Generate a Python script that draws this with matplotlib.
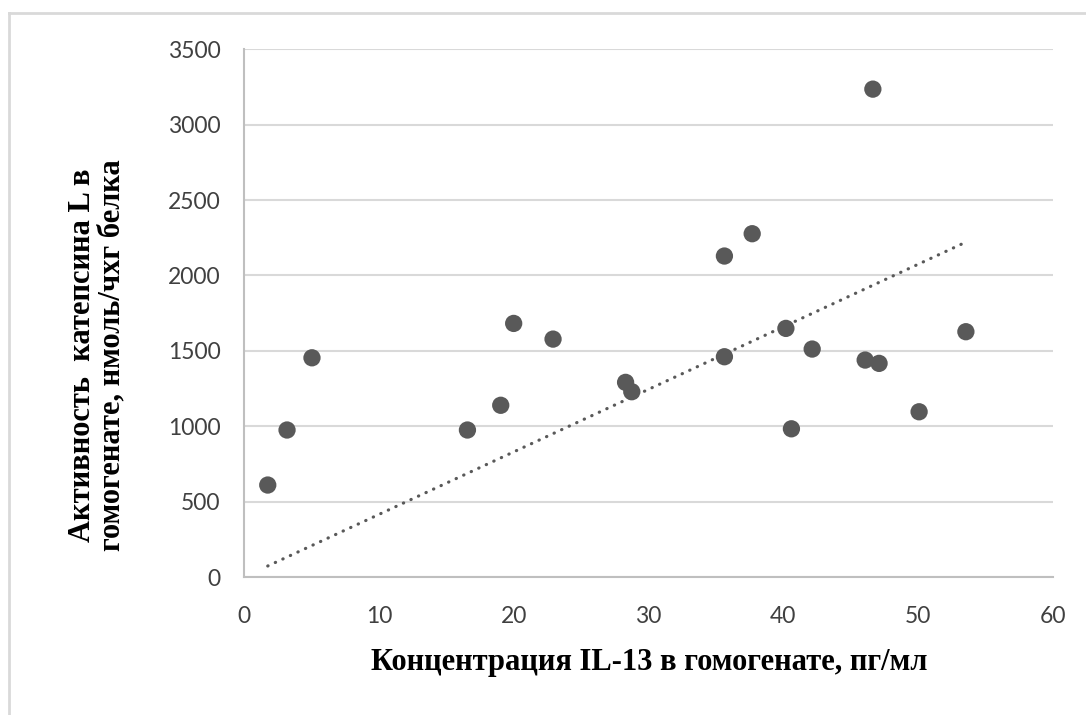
import numpy as np
import matplotlib.pyplot as plt
from matplotlib.lines import Line2D

# IL-13 concentration (pg/ml) vs cathepsin L activity
il13 = [1.76, 3.19, 5.04, 16.57, 19.04, 20.0, 22.92, 28.3, 28.76, 35.63,
        40.19, 42.14, 40.6, 46.07, 47.1, 50.07, 53.54, 46.64, 35.63, 37.69]
katepsin = [610, 975, 1454, 975, 1139, 1682, 1578, 1291, 1229, 1461,
            1649, 1512, 983, 1439, 1417, 1096, 1627, 3236, 2129, 2277]

x_ticks = [0, 10, 20, 30, 40, 50, 60]
y_ticks = [0, 500, 1000, 1500, 2000, 2500, 3000, 3500]

xlabel = 'Концентрация IL-13 в гомогенате, пг/мл'
ylabel = 'Активность  катепсина L в\nгомогенате, нмоль/чхг белка'

x = np.array(il13)
y = np.array(katepsin)

# linear trend through the origin
k = np.sum(x * y) / np.sum(x * x)
xt = np.array([x.min(), x.max()])

fig = plt.figure(figsize=(10.86, 7.15), dpi=100)
ax = fig.add_axes([0.2247, 0.193, 0.9696 - 0.2247, 0.931 - 0.193])

ax.scatter(x, y, s=155, color='#595959', edgecolors='none', zorder=3)
ax.plot(xt, k * xt, color='#595959', linewidth=2.3,
        linestyle=(0, (0.1, 2.5)), dash_capstyle='round', zorder=2)

ax.set_xlim(0, 60)
ax.set_ylim(0, 3500)
ax.set_xticks(x_ticks)
ax.set_yticks(y_ticks)
ax.tick_params(length=0, labelsize=16.5, labelcolor='#404040')
ax.tick_params(axis='x', pad=21)
ax.tick_params(axis='y', pad=17)
for lab in ax.get_xticklabels() + ax.get_yticklabels():
    lab.set_fontfamily('Lato')

ax.grid(axis='y', color='#d9d9d9', linewidth=1.5)
ax.set_axisbelow(True)
for side in ['top', 'right']:
    ax.spines[side].set_visible(False)
for side in ['left', 'bottom']:
    ax.spines[side].set_color('#bfbfbf')
    ax.spines[side].set_linewidth(1.5)

fig.text(0.598, 0.074, xlabel, ha='center', va='center', fontsize=22,
         fontweight='bold', family='Liberation Serif', color='black')
fig.text(0.0895, 0.503, ylabel, ha='center', va='center', rotation=90,
         fontsize=22, fontweight='bold', family='Liberation Serif',
         color='black', linespacing=1.05)

# chart area frame (top and left edges)
fig.add_artist(Line2D([9 / 1086, 9 / 1086], [0, 1 - 13 / 715],
                      transform=fig.transFigure, color='#d9d9d9', linewidth=2))
fig.add_artist(Line2D([9 / 1086, 1], [1 - 13 / 715, 1 - 13 / 715],
                      transform=fig.transFigure, color='#d9d9d9', linewidth=2))

fig.savefig('out.png', dpi=100, facecolor='white')
